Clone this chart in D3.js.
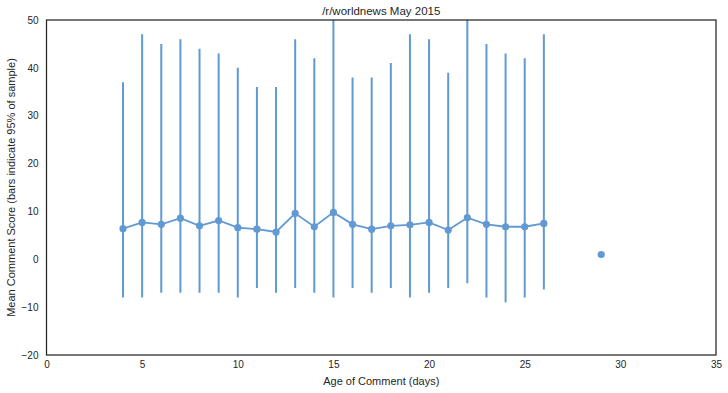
<!DOCTYPE html>
<html><head><meta charset="utf-8">
<script src="https://cdn.jsdelivr.net/npm/d3@7"></script>
<style>body{margin:0;background:#fff}svg{display:block}</style>
</head><body>
<script>
const days  = [4,5,6,7,8,9,10,11,12,13,14,15,16,17,18,19,20,21,22,23,24,25,26,29];
const means = [6.4,7.7,7.3,8.6,7.0,8.1,6.6,6.3,5.7,9.6,6.8,9.8,7.3,6.3,7.0,7.2,7.7,6.1,8.7,7.3,6.8,6.8,7.5,1.0];
const lows  = [-8,-8,-7,-7,-7,-7,-8,-6,-7,-6,-7,-8,-6,-7,-6,-8,-7,-6,-5,-8,-9,-8,-6.3,null];
const highs = [37,47,45,46,44,43,40,36,36,46,42,53,38,38,41,47,46,39,53,45,43,42,47,null];
const xTicks = [0,5,10,15,20,25,30,35];
const yTicks = [-20,-10,0,10,20,30,40,50];

const W=728,H=393, m={l:46.5,r:12,t:20,b:38};
const color="#6199d2";
const data = days.map((d,i)=>({d,m:means[i],lo:lows[i],hi:highs[i]}));
const svg=d3.select("body").append("svg").attr("width",W).attr("height",H);
const x=d3.scaleLinear().domain([0,35]).range([m.l,W-m.r]);
const y=d3.scaleLinear().domain([-20,50]).range([H-m.b,m.t]);
svg.append("defs").append("clipPath").attr("id","c").append("rect")
  .attr("x",m.l).attr("y",m.t).attr("width",W-m.r-m.l).attr("height",H-m.b-m.t);
const g=svg.append("g").attr("clip-path","url(#c)");
const font="Liberation Sans, Arial, sans-serif";

const xa=svg.append("g").attr("transform",`translate(0,${H-m.b})`)
  .call(d3.axisBottom(x).tickValues(xTicks).tickSize(0).tickPadding(6));
const ya=svg.append("g").attr("transform",`translate(${m.l},0)`)
  .call(d3.axisLeft(y).tickValues(yTicks).tickSize(0).tickPadding(8));
[xa,ya].forEach(a=>{a.select(".domain").remove();a.selectAll("text").attr("font-family",font).attr("font-size",10).attr("fill","#262626");});

g.selectAll(".eb").data(data.filter(d=>d.lo!=null)).join("line")
  .attr("x1",d=>x(d.d)).attr("x2",d=>x(d.d)).attr("y1",d=>y(d.lo)).attr("y2",d=>y(d.hi))
  .attr("stroke",color).attr("stroke-width",2);
g.append("path").datum(data.filter(d=>d.lo!=null))
  .attr("d",d3.line().x(d=>x(d.d)).y(d=>y(d.m)))
  .attr("fill","none").attr("stroke",color).attr("stroke-width",1.8);
g.selectAll(".pt").data(data).join("circle")
  .attr("cx",d=>x(d.d)).attr("cy",d=>y(d.m)).attr("r",3.6).attr("fill",color);

svg.append("rect").attr("x",m.l).attr("y",m.t).attr("width",W-m.r-m.l).attr("height",H-m.b-m.t)
  .attr("fill","none").attr("stroke","#262626").attr("stroke-width",1.25);

svg.append("text").attr("x",(m.l+W-m.r)/2).attr("y",15).attr("text-anchor","middle")
  .attr("font-family",font).attr("font-size",11.5).attr("fill","#262626").text("/r/worldnews May 2015");
svg.append("text").attr("x",(m.l+W-m.r)/2).attr("y",385).attr("text-anchor","middle")
  .attr("font-family",font).attr("font-size",11).attr("fill","#262626").text("Age of Comment (days)");
svg.append("text").attr("transform",`translate(15,${(m.t+H-m.b)/2}) rotate(-90)`).attr("text-anchor","middle")
  .attr("font-family",font).attr("font-size",11).attr("fill","#262626").text("Mean Comment Score (bars indicate 95% of sample)");
</script>
</body></html>
